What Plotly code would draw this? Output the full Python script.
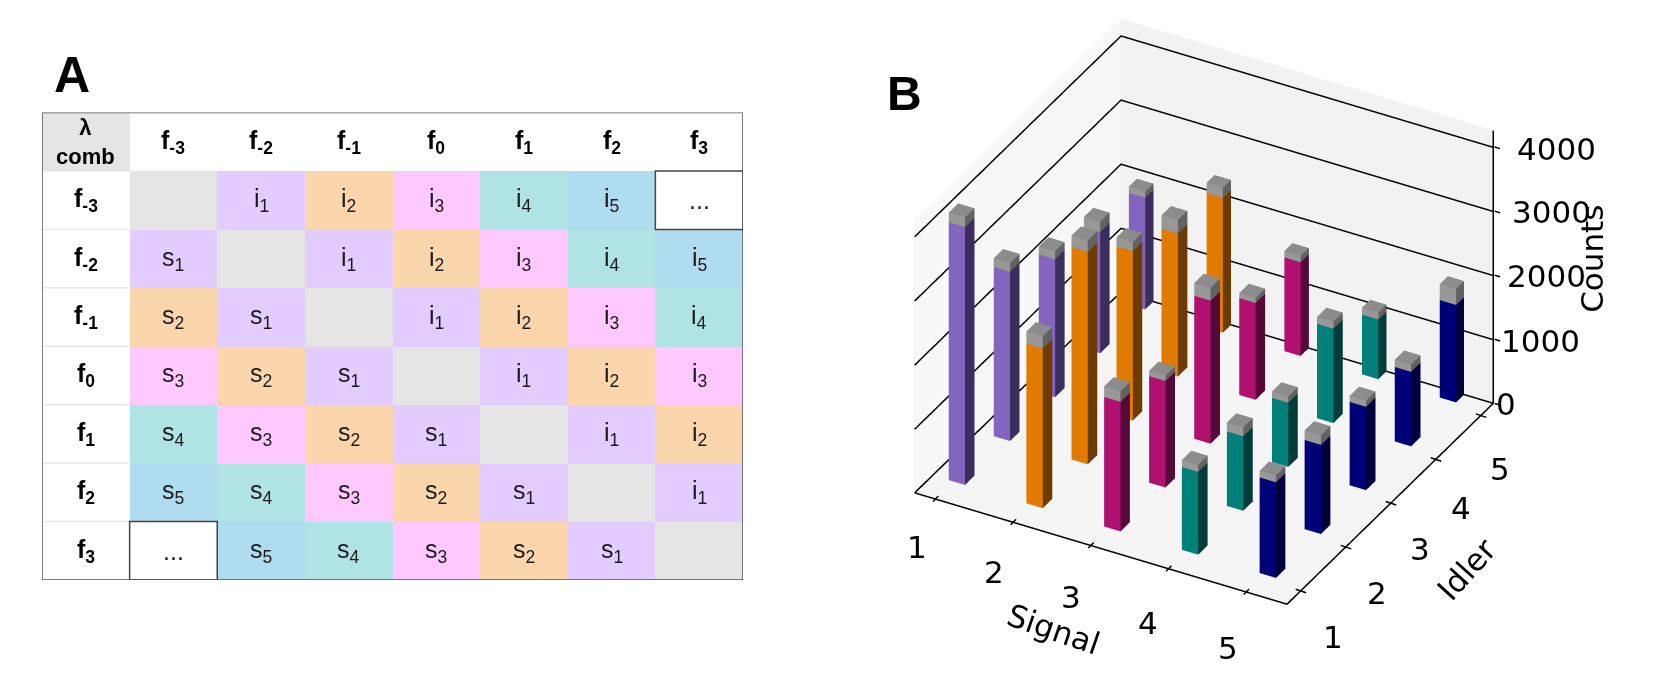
import plotly.graph_objects as go

# ---------- Panel A data ----------
col_labels = ["f<sub>-3</sub>", "f<sub>-2</sub>", "f<sub>-1</sub>", "f<sub>0</sub>", "f<sub>1</sub>", "f<sub>2</sub>", "f<sub>3</sub>"]
corner_label = "λ<br>comb"
cell_text = [
    ["",               "i<sub>1</sub>", "i<sub>2</sub>", "i<sub>3</sub>", "i<sub>4</sub>", "i<sub>5</sub>", "..."],
    ["s<sub>1</sub>",  "",              "i<sub>1</sub>", "i<sub>2</sub>", "i<sub>3</sub>", "i<sub>4</sub>", "i<sub>5</sub>"],
    ["s<sub>2</sub>",  "s<sub>1</sub>", "",              "i<sub>1</sub>", "i<sub>2</sub>", "i<sub>3</sub>", "i<sub>4</sub>"],
    ["s<sub>3</sub>",  "s<sub>2</sub>", "s<sub>1</sub>", "",              "i<sub>1</sub>", "i<sub>2</sub>", "i<sub>3</sub>"],
    ["s<sub>4</sub>",  "s<sub>3</sub>", "s<sub>2</sub>", "s<sub>1</sub>", "",              "i<sub>1</sub>", "i<sub>2</sub>"],
    ["s<sub>5</sub>",  "s<sub>4</sub>", "s<sub>3</sub>", "s<sub>2</sub>", "s<sub>1</sub>", "",              "i<sub>1</sub>"],
    ["...",            "s<sub>5</sub>", "s<sub>4</sub>", "s<sub>3</sub>", "s<sub>2</sub>", "s<sub>1</sub>", ""],
]
# colour class of a cell: 0 white, 1 grey, 2..6 = pair index 1..5
cell_class = [
    [1, 2, 3, 4, 5, 6, 0],
    [2, 1, 2, 3, 4, 5, 6],
    [3, 2, 1, 2, 3, 4, 5],
    [4, 3, 2, 1, 2, 3, 4],
    [5, 4, 3, 2, 1, 2, 3],
    [6, 5, 4, 3, 2, 1, 2],
    [0, 6, 5, 4, 3, 2, 1],
]
class_colors = ["#FFFFFF", "#E5E5E5", "#E3CCFF", "#FBD6AC", "#FFC8FF", "#B0E3E3", "#B0DCEF"]

# ---------- Panel B data ----------
signal = [1, 2, 3, 4, 5]
idler = [1, 2, 3, 4, 5]
counts = [
    [4020, 2640, 2150, 1890, 1740],
    [2490, 3310, 2640, 2230, 2100],
    [2020, 1660, 2230, 1510, 1460],
    [1290, 1160, 1000, 1470, 930],
    [1490, 1390, 1300, 1160, 1520],
]
errors = [
    [150, 135, 125, 160, 100],
    [190, 180, 140, 210, 160],
    [165, 85, 200, 80, 100],
    [110, 140, 100, 110, 110],
    [105, 150, 95, 115, 250],
]
front_colors = ["#8365C0", "#E07B00", "#B01070", "#008078", "#000078"]
side_colors = ["#3C2E5C", "#6B3B00", "#560838", "#003C3A", "#00003C"]
z_ticks = [0, 1000, 2000, 3000, 4000]
x_range = [0.73, 5.54]
y_range = [0.68, 5.28]
z_range = [0, 4260]
bar_w = 0.21
bar_dx = -0.06
bar_dy = 0.10


def add_box(m, x0, x1, y0, y1, z0, z1, front, side, top):
    n = len(m["x"])
    for zz in (z0, z1):
        for xx, yy in ((x0, y0), (x1, y0), (x1, y1), (x0, y1)):
            m["x"].append(xx); m["y"].append(yy); m["z"].append(zz)
    quads = [((0, 1, 5), (0, 5, 4), front),  # y-min face
             ((1, 2, 6), (1, 6, 5), side),   # x-max face
             ((4, 5, 6), (4, 6, 7), top),    # top
             ((2, 3, 7), (2, 7, 6), side),
             ((3, 0, 4), (3, 4, 7), front),
             ((0, 3, 2), (0, 2, 1), side)]
    for a, b, c in quads:
        for t in (a, b):
            m["i"].append(n + t[0]); m["j"].append(n + t[1]); m["k"].append(n + t[2])
            m["c"].append(c)


bars = dict(x=[], y=[], z=[], i=[], j=[], k=[], c=[])
caps = dict(x=[], y=[], z=[], i=[], j=[], k=[], c=[])
for si, s in enumerate(signal):
    for ii, d in enumerate(idler):
        x0 = s + bar_dx
        y0 = d + bar_dy
        h = counts[si][ii]
        add_box(bars, x0, x0 + bar_w, y0, y0 + bar_w, 0, h, front_colors[si], side_colors[si], front_colors[si])
        add_box(caps, x0, x0 + bar_w, y0, y0 + bar_w, h, h + errors[si][ii], "#989898", "#626262", "#8C8C8C")

flat = dict(ambient=1, diffuse=0, specular=0, roughness=1, fresnel=0)
fig = go.Figure()

# ---------- Panel A ----------
z_tbl = [[1] + [0] * 7] + [[0] + row for row in cell_class]
scale = []
for k in range(7):
    scale.append([k / 7, class_colors[k]])
    scale.append([(k + 1) / 7, class_colors[k]])
fig.add_trace(go.Heatmap(
    z=z_tbl, x=list(range(8)), y=list(range(8)), zmin=0, zmax=7, showscale=False, hoverinfo="skip",
    colorscale=scale, xaxis="x", yaxis="y"))

annotations = []
tbl_font = dict(family="Liberation Sans", size=25, color="#1a1a1a")
bold_font = dict(family="Liberation Sans", size=25, color="#000000")
for c, t in enumerate(col_labels):
    annotations.append(dict(x=c + 1, y=0, xref="x", yref="y", text="<b>%s</b>" % t, showarrow=False, font=bold_font))
    annotations.append(dict(x=0, y=c + 1, xref="x", yref="y", text="<b>%s</b>" % t, showarrow=False, font=bold_font))
annotations.append(dict(x=0, y=0, xref="x", yref="y", text="<b>%s</b>" % corner_label, showarrow=False,
                        font=dict(family="Liberation Sans", size=22, color="#000000")))
for r, row in enumerate(cell_text):
    for c, t in enumerate(row):
        if t:
            annotations.append(dict(x=c + 1, y=r + 1, xref="x", yref="y", text=t, showarrow=False, font=tbl_font))
annotations.append(dict(x=72 / 1661, y=1 - 75 / 693, xref="paper", yref="paper", text="<b>A</b>", showarrow=False,
                        xanchor="center", yanchor="middle", font=dict(family="Liberation Sans", size=50, color="#000")))
annotations.append(dict(x=904 / 1661, y=1 - 93 / 693, xref="paper", yref="paper", text="<b>B</b>", showarrow=False,
                        xanchor="center", yanchor="middle", font=dict(family="Liberation Sans", size=48, color="#000")))

shapes = []
for r in range(1, 8):
    shapes.append(dict(type="line", x0=-0.5, x1=0.5, y0=r - 0.5, y1=r - 0.5, xref="x", yref="y",
                       line=dict(color="#E8E8E8", width=1.5)))
shapes.append(dict(type="rect", x0=6.5, x1=7.5, y0=0.5, y1=1.5, xref="x", yref="y", line=dict(color="#444", width=1.5)))
shapes.append(dict(type="rect", x0=0.5, x1=1.5, y0=6.5, y1=7.5, xref="x", yref="y", line=dict(color="#444", width=1.5)))
shapes.append(dict(type="rect", x0=-0.5, x1=7.5, y0=-0.5, y1=7.5, xref="x", yref="y", line=dict(color="#555", width=1.5)))

# ---------- Panel B ----------
fig.add_trace(go.Mesh3d(x=bars["x"], y=bars["y"], z=bars["z"], i=bars["i"], j=bars["j"], k=bars["k"],
                        facecolor=bars["c"], flatshading=True, lighting=flat, hoverinfo="skip", showscale=False))
fig.add_trace(go.Mesh3d(x=caps["x"], y=caps["y"], z=caps["z"], i=caps["i"], j=caps["j"], k=caps["k"],
                        facecolor=caps["c"], flatshading=True, lighting=flat, hoverinfo="skip", showscale=False))

# grid lines on the two back walls and the axis lines (nudged just off the walls)
x_lo, x_hi = x_range[0] + 0.01, x_range[1] - 0.01
y_lo, y_hi = y_range[0] + 0.01, y_range[1] - 0.01
z_lo = z_ticks[0] + 8
gx, gy, gz = [], [], []
for t in z_ticks[1:]:
    gx += [x_lo, x_lo, x_hi, None]
    gy += [y_lo, y_hi, y_hi, None]
    gz += [t, t, t, None]
gx += [x_hi, x_hi, None, x_lo, x_hi, x_hi, None, x_lo, x_lo, x_hi]
gy += [y_hi, y_hi, None, y_lo, y_lo, y_hi, None, y_lo, y_hi, y_hi]
gz += [z_lo, z_range[1], None, z_lo, z_lo, z_lo, None, z_lo, z_lo, z_lo]
fig.add_trace(go.Scatter3d(x=gx, y=gy, z=gz, mode="lines", line=dict(color="#000", width=3), hoverinfo="skip"))

num_font = dict(family="DejaVu Sans", size=31, color="#000")
tick = dict(text="", showarrow=True, arrowhead=0, arrowwidth=1.5, arrowcolor="#000", standoff=0)
signal_label_dx = [-18, -18, -19, -20, -18]
signal_label_dy = [-47, -49, -51, -54, -55]
idler_label_dx = [31, 30, 28, 24, 18]
idler_label_dy = [-46, -46, -46, -48, -53]
z_label_dx = [-1, 4, 10, 15, 20]
z_label_dy = [-1, -2, -1, -1, -2]
scene_ann = []
for n, s in enumerate(signal):
    scene_ann.append(dict(x=s, y=y_range[0], z=0, text=str(s), showarrow=False, font=num_font,
                          xshift=signal_label_dx[n], yshift=signal_label_dy[n]))
    scene_ann.append(dict(x=s, y=y_range[0] + 0.08, z=0, ax=-7, ay=7, **tick))
for n, d in enumerate(idler):
    scene_ann.append(dict(x=x_range[1], y=d, z=0, text=str(d), showarrow=False, font=num_font,
                          xshift=idler_label_dx[n], yshift=idler_label_dy[n]))
    scene_ann.append(dict(x=x_range[1] - 0.08, y=d, z=0, ax=12, ay=4, **tick))
for n, t in enumerate(z_ticks):
    scene_ann.append(dict(x=x_range[1], y=y_range[1], z=t, text=str(t), showarrow=False, font=num_font,
                          xanchor="left", xshift=z_label_dx[n], yshift=z_label_dy[n]))
    scene_ann.append(dict(x=x_range[1], y=y_range[1], z=t, ax=7, ay=2, **tick))
scene_ann.append(dict(x=3, y=y_range[0], z=0, text="Signal", showarrow=False, font=num_font, textangle=19,
                      xshift=-37, yshift=-83))
scene_ann.append(dict(x=x_range[1], y=3, z=0, text="Idler", showarrow=False, font=num_font, textangle=-48,
                      xshift=75, yshift=-66))
scene_ann.append(dict(x=x_range[1], y=y_range[1], z=2000, text="Counts", showarrow=False, font=num_font, textangle=-90,
                      xshift=98, yshift=16))


def axis(rng, bg):
    return dict(range=rng, showticklabels=False, title=dict(text=""), ticks="", showline=False, showspikes=False,
                zeroline=False, showgrid=False, showbackground=True, backgroundcolor=bg, autorange=False)


r = 1.6
ex, ey, ez = 0.485 * 0.842, -0.875 * 0.842, 0.54
fig.update_layout(
    width=1661, height=693, margin=dict(l=0, r=0, t=0, b=0), paper_bgcolor="#fff", plot_bgcolor="#fff",
    showlegend=False, annotations=annotations, shapes=shapes,
    xaxis=dict(domain=[42 / 1661, 743 / 1661], range=[-0.5, 7.5], visible=False, fixedrange=True),
    yaxis=dict(domain=[1 - 580 / 693, 1 - 112.5 / 693], range=[7.5, -0.5], visible=False, fixedrange=True),
    scene=dict(
        domain=dict(x=[0.45, 1], y=[0.1, 1]),
        aspectmode="manual", aspectratio=dict(x=1.37, y=1.37, z=1.04),
        camera=dict(eye=dict(x=r * ex, y=r * ey, z=r * ez), center=dict(x=0, y=0, z=0), up=dict(x=0, y=0, z=1),
                    projection=dict(type="orthographic")),
        xaxis=axis(x_range, "#F8F8F8"),
        yaxis=axis(y_range, "#F2F2F2"),
        zaxis=axis(z_range, "#F5F5F5"),
        annotations=scene_ann,
    ),
)
fig.write_html("out.html", config=dict(displayModeBar=False),
               post_script="document.body.style.margin='0';document.body.style.overflow='hidden';")
